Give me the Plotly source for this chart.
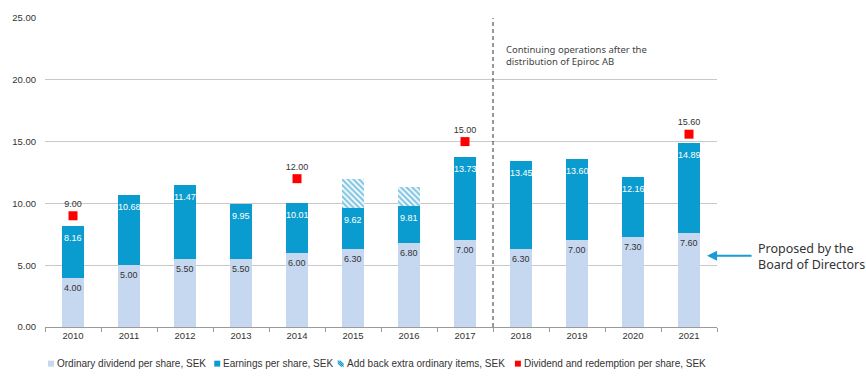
import plotly.graph_objects as go

# Data (SEK per share)
years = ["2010", "2011", "2012", "2013", "2014", "2015", "2016", "2017",
         "2018", "2019", "2020", "2021"]
dividend = [4.00, 5.00, 5.50, 5.50, 6.00, 6.30, 6.80, 7.00, 6.30, 7.00, 7.30, 7.60]
eps = [8.16, 10.68, 11.47, 9.95, 10.01, 9.62, 9.81, 13.73, 13.45, 13.60, 12.16, 14.89]
extra_items = [0, 0, 0, 0, 0, 2.34, 1.51, 0, 0, 0, 0, 0]
redemption_years = ["2010", "2014", "2017", "2021"]
redemption = [9.00, 12.00, 15.00, 15.60]
y_ticks = [0, 5, 10, 15, 20, 25]

LIGHT = "#c6d8ef"
DARK = "#0b9ccf"
RED = "#ff0000"
TXT = "#333333"
FONT = "Liberation Sans, Arial, sans-serif"
FONT2 = "Noto Sans, Open Sans, sans-serif"

eps_part = [e - d for e, d in zip(eps, dividend)]

fig = go.Figure()
fig.add_bar(x=years, y=dividend, marker=dict(color=LIGHT, line_width=0),
            width=0.4, showlegend=False)
fig.add_bar(x=years, y=eps_part, base=dividend, marker=dict(color=DARK, line_width=0),
            width=0.4, showlegend=False)
fig.add_bar(x=years, y=extra_items, base=eps,
            marker=dict(color="white", line_width=0,
                        pattern=dict(shape="\\", fgcolor="#0a8fc4", bgcolor="white",
                                     size=4, solidity=0.55)),
            width=0.4, showlegend=False)
fig.add_scatter(x=redemption_years, y=redemption, mode="markers+text",
                marker=dict(symbol="square", size=9, color=RED),
                text=[f"{v:.2f}" for v in redemption], textposition="top center",
                textfont=dict(family=FONT, size=9, color=TXT), showlegend=False)

# value labels inside the bars (category index positions)
for i, (d, e) in enumerate(zip(dividend, eps)):
    fig.add_annotation(x=i, y=d, text=f"{d:.2f}", showarrow=False, yanchor="top",
                       yshift=-3, font=dict(family=FONT, size=9, color=TXT))
    fig.add_annotation(x=i, y=e, text=f"{e:.2f}", showarrow=False, yanchor="top",
                       yshift=-5, font=dict(family=FONT, size=9, color="white"))

# divider between reporting bases
fig.add_shape(type="line", xref="x", yref="paper", x0=7.5, x1=7.5, y0=0, y1=1.0,
              line=dict(color="#333333", width=1, dash="4px,3px"))
fig.add_annotation(xref="x", yref="paper", x=7.7, y=0.925, xanchor="left", yanchor="top",
                   align="left", showarrow=False,
                   text="Continuing operations after the<br>distribution of Epiroc AB",
                   font=dict(family=FONT2, size=9.5, color="#444444"))

W, H = 675, 312
def px(x):
    return (x - 42) / W
def py(y):
    return (327 - y) / H

# board proposal callout
fig.add_annotation(xref="paper", yref="paper", x=px(707), y=py(255),
                   ax=46, ay=0, axref="pixel", ayref="pixel",
                   showarrow=True, arrowhead=2, arrowsize=1, arrowwidth=2,
                   arrowcolor="#1a9ad6", text="")
fig.add_annotation(xref="paper", yref="paper", x=px(756), y=py(256),
                   xanchor="left", yanchor="middle", align="left", showarrow=False,
                   text="Proposed by the<br>Board of Directors",
                   font=dict(family=FONT2, size=12.5, color="#333333"))

# legend row
legend_items = [
    (45, LIGHT, "Ordinary dividend per share, SEK"),
    (212, DARK, "Earnings per share, SEK"),
    (336, None, "Add back extra ordinary items, SEK"),
    (514, RED, "Dividend and redemption per share, SEK"),
]
ly = 364
for x0, col, label in legend_items:
    if col is not None:
        fig.add_shape(type="rect", xref="paper", yref="paper",
                      x0=px(x0), x1=px(x0 + 6), y0=py(ly + 3), y1=py(ly - 3),
                      fillcolor=col, line_width=0)
    else:
        fig.add_shape(type="path", xref="paper", yref="paper",
                      path=(f"M {px(x0)},{py(ly - 1)} L {px(x0 + 4)},{py(ly + 3)} "
                            f"M {px(x0)},{py(ly - 3)} L {px(x0 + 6)},{py(ly + 3)} "
                            f"M {px(x0 + 2)},{py(ly - 3)} L {px(x0 + 6)},{py(ly + 1)}"),
                      line=dict(color=DARK, width=1.2))
    fig.add_annotation(xref="paper", yref="paper", x=px(x0 + 7), y=py(ly),
                       xanchor="left", yanchor="middle", showarrow=False, text=label,
                       font=dict(family=FONT, size=10, color=TXT))

fig.update_layout(
    barmode="stack",
    width=866, height=376,
    margin=dict(l=42, r=149, t=15, b=49),
    paper_bgcolor="white", plot_bgcolor="white",
    font=dict(family=FONT, size=9.5, color=TXT),
    xaxis=dict(type="category", showgrid=False, showline=True, linecolor="#9a9a9a",
               linewidth=1, ticks="outside", tickson="boundaries", ticklen=4,
               tickcolor="#9a9a9a", tickfont=dict(family=FONT, size=9.5, color=TXT),
               range=[-0.5, 11.5], fixedrange=True),
    yaxis=dict(range=[0, 25], tickvals=y_ticks, tickformat=".2f", showgrid=True,
               gridcolor="#c9c9c9", gridwidth=1, zeroline=False, showline=False,
               ticks="", ticklabelstandoff=8,
               tickfont=dict(family=FONT, size=9.5, color=TXT)),
    showlegend=False,
)

fig.write_html("out.html")
